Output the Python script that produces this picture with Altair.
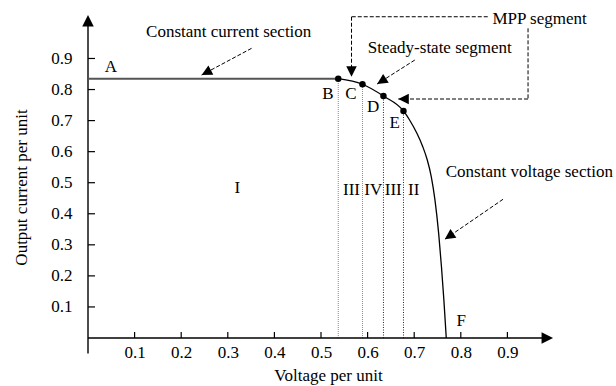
import altair as alt
import pandas as pd

FONT = "Liberation Serif"
FS = 17

# ---- per-unit I-V characteristic of the source ----
plateau_v = [0.0, 0.537]
plateau_i = [0.835, 0.835]
curve_v = [0.537, 0.589, 0.634, 0.677, 0.6901, 0.7058, 0.7184, 0.7281, 0.7367, 0.7446, 0.7525, 0.7585, 0.7637, 0.7688]
curve_i = [0.835, 0.817, 0.779, 0.731, 0.702, 0.659, 0.616, 0.573, 0.519, 0.444, 0.337, 0.2296, 0.122, 0.0]

# operating points B, C, D, E
pt_v = [0.537, 0.589, 0.634, 0.677]
pt_i = [0.835, 0.817, 0.779, 0.731]

tick_vals = [0.1, 0.2, 0.3, 0.4, 0.5, 0.6, 0.7, 0.8, 0.9]

# point letters
letter_txt = ["A", "B", "C", "D", "E", "F"]
letter_v = [0.049, 0.515, 0.564, 0.612, 0.658, 0.801]
letter_i = [0.858, 0.769, 0.769, 0.727, 0.677, 0.039]

# region numerals
region_txt = ["I", "III", "IV", "III", "II"]
region_v = [0.3206, 0.5655, 0.612, 0.655, 0.699]
region_i = [0.466, 0.460, 0.460, 0.460, 0.460]

# annotations
note_txt = ["Constant current section", "Steady-state segment", "MPP segment", "Constant voltage section"]
note_v = [0.302, 0.755, 0.969, 0.947]
note_i = [0.970, 0.9166, 1.011, 0.517]

# dashed leader segments
lead_v = [0.351, 0.7013, 0.8578, 0.5655, 0.9443, 0.9443, 0.8906]
lead_i = [0.9327, 0.895, 1.0344, 1.0344, 0.9971, 0.7695, 0.4466]
lead_v2 = [0.2438, 0.6204, 0.5655, 0.5655, 0.9443, 0.6659, 0.7656]
lead_i2 = [0.8467, 0.8178, 1.0344, 0.8413, 0.7695, 0.7695, 0.3178]

# arrow tips of the leaders and their headings (degrees clockwise from up)
head_v = [0.2438, 0.6204, 0.5655, 0.6659, 0.7656]
head_i = [0.8467, 0.8178, 0.8413, 0.7695, 0.3178]
head_ang = [242, 237.5, 180, 270, 235.5]

# axis arrow tips
axhead_v = [0.998, 0.0]
axhead_i = [0.0, 1.040]
axhead_ang = [90, 0]

ARROW = "M0,0L-1,2L1,2Z"

xs = alt.Scale(domain=[0, 1.0], nice=False, zero=False)
ys = alt.Scale(domain=[0, 1.04], nice=False, zero=False)

x_axis = alt.Axis(
    values=tick_vals, format=".1f", domain=False, ticks=False, tickSize=0, grid=False,
    labelFont=FONT, labelFontSize=FS, labelColor="black", labelPadding=6, labelFlush=False,
    title="Voltage per unit", titleFont=FONT, titleFontSize=FS, titleFontWeight="normal",
    titleColor="black", titleX=240, titleY=42, titleAlign="center", titleBaseline="alphabetic",
)
y_axis = alt.Axis(
    values=tick_vals, format=".1f", domain=False, ticks=False, tickSize=0, grid=False,
    labelFont=FONT, labelFontSize=FS, labelColor="black", labelPadding=16, labelFlush=False,
    title="Output current per unit", titleFont=FONT, titleFontSize=FS, titleFontWeight="normal",
    titleColor="black", titleAngle=270, titleX=-61.5, titleY=172, titleAlign="center",
    titleBaseline="alphabetic",
)


def X(f):
    return alt.X(f"{f}:Q", scale=xs, axis=x_axis)


def Y(f):
    return alt.Y(f"{f}:Q", scale=ys, axis=y_axis)


plateau_df = pd.DataFrame({"v": plateau_v, "i": plateau_i})
curve_df = pd.DataFrame({"v": curve_v, "i": curve_i})
pts_df = pd.DataFrame({"v": pt_v, "i": pt_i, "zero": [0.0] * len(pt_v)})
ticks_df = pd.DataFrame({"t": tick_vals, "zero": [0.0] * len(tick_vals)})
letters_df = pd.DataFrame({"txt": letter_txt, "v": letter_v, "i": letter_i})
regions_df = pd.DataFrame({"txt": region_txt, "v": region_v, "i": region_i})
notes_df = pd.DataFrame({"txt": note_txt, "v": note_v, "i": note_i})
lead_df = pd.DataFrame({"v": lead_v, "i": lead_i, "v2": lead_v2, "i2": lead_i2})
head_df = pd.DataFrame({"v": head_v, "i": head_i, "ang": head_ang})
axhead_df = pd.DataFrame({"v": axhead_v, "i": axhead_i, "ang": axhead_ang})

# axis lines
x_line = alt.Chart(pd.DataFrame({"v": [0.0], "v2": [0.985], "i": [0.0]})).mark_rule(
    color="black", strokeWidth=1.4
).encode(x=X("v"), x2="v2:Q", y=Y("i"))
y_line = alt.Chart(pd.DataFrame({"v": [0.0], "i": [-0.05], "i2": [1.02]})).mark_rule(
    color="black", strokeWidth=1.4
).encode(x=X("v"), y=Y("i"), y2="i2:Q")

x_ticks = alt.Chart(ticks_df).mark_tick(
    orient="vertical", size=6, thickness=1.2, color="black", yOffset=-3, opacity=1
).encode(x=X("t"), y=Y("zero"))
y_ticks = alt.Chart(ticks_df).mark_tick(
    orient="horizontal", size=7, thickness=1.2, color="black", xOffset=3.5, opacity=1
).encode(x=X("zero"), y=Y("t"))

ax_heads = alt.Chart(axhead_df).mark_point(
    shape=ARROW, filled=True, color="black", opacity=1, size=132, strokeWidth=0
).encode(x=X("v"), y=Y("i"), angle=alt.Angle("ang:Q", scale=None))

# dotted drop lines from the operating points
drop_grey = alt.Chart(pts_df.iloc[:2]).mark_rule(
    color="#8a8a8a", strokeWidth=1, strokeDash=[1, 1]
).encode(x=X("v"), y=Y("zero"), y2="i:Q")
drop_dark = alt.Chart(pts_df.iloc[2:]).mark_rule(
    color="#222222", strokeWidth=1, strokeDash=[1, 1.5]
).encode(x=X("v"), y=Y("zero"), y2="i:Q")

plateau = alt.Chart(plateau_df).mark_line(color="#555555", strokeWidth=2).encode(
    x=X("v"), y=Y("i")
)
curve = alt.Chart(curve_df).mark_line(
    color="black", strokeWidth=1.3, interpolate="monotone"
).encode(x=X("v"), y=Y("i"))

points = alt.Chart(pts_df).mark_circle(color="black", size=42, opacity=1).encode(
    x=X("v"), y=Y("i")
)

leaders = alt.Chart(lead_df).mark_rule(
    color="black", strokeWidth=1, strokeDash=[4, 2]
).encode(x=X("v"), y=Y("i"), x2="v2:Q", y2="i2:Q")

heads = alt.Chart(head_df).mark_point(
    shape=ARROW, filled=True, color="black", opacity=1, size=110, strokeWidth=0
).encode(x=X("v"), y=Y("i"), angle=alt.Angle("ang:Q", scale=None))


def text_layer(df):
    return alt.Chart(df).mark_text(
        font=FONT, fontSize=FS, color="black", align="center", baseline="alphabetic"
    ).encode(x=X("v"), y=Y("i"), text="txt:N")


chart = alt.layer(
    drop_grey, drop_dark, x_line, y_line, x_ticks, y_ticks, ax_heads,
    plateau, curve, points, leaders, heads,
    text_layer(letters_df), text_layer(regions_df), text_layer(notes_df),
).properties(
    width=466,
    height=323,
    autosize=alt.AutoSizeParams(type="none"),
    padding={"left": 88, "top": 15, "right": 62, "bottom": 48},
    background="white",
).configure_view(stroke=None)

chart.save("out.html", embed_options={"renderer": "svg", "actions": False})
